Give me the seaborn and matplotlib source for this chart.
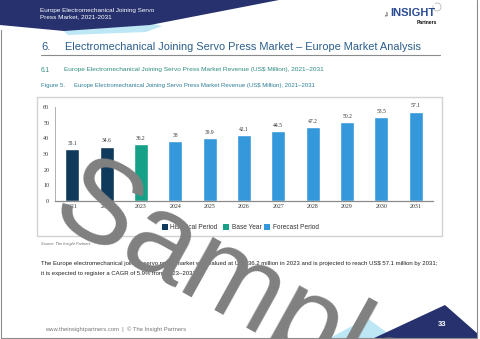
import matplotlib
matplotlib.use("Agg")
import matplotlib.pyplot as plt
from matplotlib.patches import Polygon, Rectangle, Arc
import seaborn as sns
import pandas as pd

# ---------------- data ----------------
years = ["2021", "2022", "2023", "2024", "2025", "2026", "2027", "2028", "2029", "2030", "2031"]
revenue = [33.1, 34.6, 36.2, 38, 39.9, 42.1, 44.5, 47.2, 50.2, 53.5, 57.1]
periods = ["Historical Period", "Historical Period", "Base Year",
           "Forecast Period", "Forecast Period", "Forecast Period", "Forecast Period",
           "Forecast Period", "Forecast Period", "Forecast Period", "Forecast Period"]
period_names = ["Historical Period", "Base Year", "Forecast Period"]
period_colors = ["#0F3A5C", "#16A088", "#3498DB"]
yticks = [0, 10, 20, 30, 40, 50, 60]

header_text = "Europe Electromechanical Joining Servo\nPress Market, 2021-2031"
section_num = "6."
section_title = "Electromechanical Joining Servo Press Market \u2013 Europe Market Analysis"
sub_num = "6.1"
sub_title = "Europe Electromechanical Joining Servo Press Market Revenue (US\\$ Million), 2021\u20132031"
fig_num = "Figure 5."
fig_title = "Europe Electromechanical Joining Servo Press Market Revenue (US\\$ Million), 2021\u20132031"
source_text = "Source: The Insight Partners"
para1 = ("The Europe electromechanical joining servo press market was valued at US\\$ 36.2 million "
         "in 2023 and is projected to reach US\\$ 57.1 million by 2031;")
para2 = "it is expected to register a CAGR of 5.9% from 2023\u20132031."
footer_text = "www.theinsightpartners.com  |  \u00a9 The Insight Partners"
page_no = "33"
watermark = "Sample"

df = pd.DataFrame({"year": years, "value": revenue, "period": periods})
palette = dict(zip(period_names, period_colors))

sns.set_theme(style="white")
plt.rcParams["font.family"] = ["Liberation Sans", "DejaVu Sans"]

W, H = 480, 339
fig = plt.figure(figsize=(4.8, 3.39), dpi=100)

# background page axes in pixel coordinates
bg = fig.add_axes([0, 0, 1, 1], zorder=0)
bg.set_xlim(0, W)
bg.set_ylim(H, 0)
bg.axis("off")

NAVY = "#26316E"
LBLUE = "#BDE7F5"
# header shapes
bg.add_patch(Polygon([(60, 28), (150, 23), (162, 26), (146, 32), (68, 35)], closed=True,
                     facecolor=LBLUE, edgecolor="none"))
bg.add_patch(Polygon([(0, 0), (279, 0), (150, 25), (64, 31), (0, 25)], closed=True,
                     facecolor=NAVY, edgecolor="none"))
bg.text(40, 13.5, header_text, color="white", fontsize=4.6, va="center", ha="left",
        linespacing=1.45)

# logo
bg.text(388, 13, "The", rotation=90, fontsize=2.6, color="#222", ha="center", va="center")
bg.text(390, 13, "INSIGHT", fontsize=8, fontweight="bold", color="#2B4C93", ha="left", va="center")
bg.text(437, 22.5, "Partners", fontsize=3.6, fontweight="bold", color="#111", ha="right", va="center")
bg.add_patch(Arc((437, 7), 8, 8, theta1=-120, theta2=200, color="#aaa", lw=0.5))

# section heading
HEAD = "#2C5F8D"
bg.text(41, 47, section_num, fontsize=8, color=HEAD, ha="left", va="center")
bg.text(65, 47, section_title, fontsize=7.9, color=HEAD, ha="left", va="center")
bg.plot([41, 440], [54.5, 54.5], color="#8a8a8a", lw=0.8)

SUB = "#2F8C80"
bg.text(41, 70, sub_num, fontsize=4.7, color=SUB, ha="left", va="center")
bg.text(64, 70, sub_title, fontsize=4.67, color=SUB, ha="left", va="center")
FIGC = "#2E7E98"
bg.text(41, 86, fig_num, fontsize=4.4, color=FIGC, ha="left", va="center")
bg.text(74, 86, fig_title, fontsize=4.3, color=FIGC, ha="left", va="center")

# chart box
bg.add_patch(Rectangle((37, 97), 405, 139, facecolor="white", edgecolor="#d2d2d2", lw=1))

# legend (manual, inside chart box)
leg_sq = [162, 223, 264]
leg_tx = [170, 232, 273]
for name, col, sx, tx in zip(period_names, period_colors, leg_sq, leg_tx):
    bg.add_patch(Rectangle((sx, 224), 6, 6, facecolor=col, edgecolor="none"))
    bg.text(tx, 227.2, name, fontsize=4.7, color="#333", ha="left", va="center")

bg.text(41, 243.5, source_text, fontsize=2.8, color="#666", style="italic", ha="left", va="center")

bg.text(41, 263, para1, fontsize=4.3, color="#222", ha="left", va="center")
bg.text(41, 273, para2, fontsize=4.3, color="#222", ha="left", va="center")

# footer
bg.text(45, 329, footer_text, fontsize=4.2, color="#777", ha="left", va="center")
bg.add_patch(Polygon([(328, 339), (367, 318), (396, 339)], closed=True, facecolor=LBLUE, edgecolor="none"))
bg.add_patch(Polygon([(372, 339), (445, 305), (478, 334), (478, 339)], closed=True,
                     facecolor=NAVY, edgecolor="none"))
bg.text(442, 325, page_no, fontsize=5.5, color="white", fontweight="bold", ha="center", va="center")

# page border
bg.plot([1, 1, 477, 477], [30, 338, 338, 0], color="#8c8c8c", lw=0.8)

# ---------------- chart ----------------
ax = fig.add_axes([55 / W, 1 - 201 / H, 378 / W, 94 / H], zorder=2)
ax.patch.set_alpha(0)
sns.barplot(data=df, x="year", y="value", hue="period", hue_order=period_names,
            palette=palette, dodge=False, width=0.41, saturation=1, legend=False, ax=ax)
ax.set_ylim(0, 60)
ax.set_xlim(-0.5, len(years) - 0.5)
ax.set_yticks(yticks)
ax.set_xlabel("")
ax.set_ylabel("")
serif = ["Liberation Serif", "DejaVu Serif"]
ax.tick_params(axis="y", length=0, pad=4.2, labelsize=4.3, labelcolor="#333")
ax.tick_params(axis="x", length=0, pad=2.5, labelsize=4.3, labelcolor="#333")
for lab in ax.get_xticklabels() + ax.get_yticklabels():
    lab.set_family(serif)
for c in ax.containers:
    labels = ax.bar_label(c, fmt="%g", padding=2.5, fontsize=4.1, color="#333")
    for t in labels:
        t.set_family(serif)
sns.despine(ax=ax, top=True, right=True)
ax.spines["left"].set_color("#b0b0b0")
ax.spines["left"].set_linewidth(0.7)
ax.spines["bottom"].set_color("#8a8a8a")
ax.spines["bottom"].set_linewidth(0.9)

# ---------------- watermark ----------------
ov = fig.add_axes([0, 0, 1, 1], zorder=5)
ov.set_xlim(0, W)
ov.set_ylim(H, 0)
ov.axis("off")
ov.patch.set_alpha(0)
ov.text(239, 292, watermark, fontsize=86, color="#808080", rotation=-29, rotation_mode="anchor",
        ha="center", va="center", clip_on=True)

fig.savefig("out.png", dpi=100)
